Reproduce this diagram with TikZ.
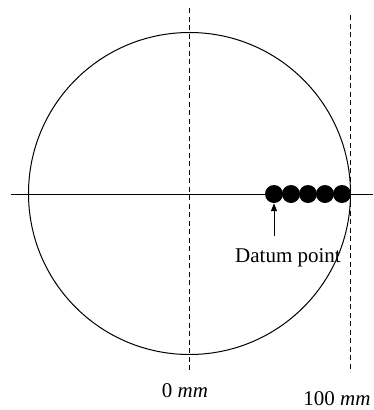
\documentclass[tikz,border=0pt]{standalone}
\usepackage{fontspec}
\setmainfont{Liberation Serif}
\usetikzlibrary{arrows.meta}
\begin{document}
\begin{tikzpicture}[x=1pt,y=-1pt,
  guide/.style={line width=0.9pt, dash pattern=on 5pt off 3.5pt},
  ball/.style={circle, fill=black, minimum size=18pt, inner sep=0pt},
  lbl/.style={font=\fontsize{21}{24}\selectfont, inner sep=0pt}]
\useasboundingbox (0,0) rectangle (373,410);
\coordinate (c) at (189.5,193.5);
\draw[line width=1pt] (c) circle[radius=161];
\coordinate (hl) at (11,194);
\coordinate (hr) at (373,194);
\draw[line width=1pt] (hl) -- (hr);
\coordinate (v0t) at (189.5,8);
\coordinate (v0b) at (189.5,372);
\draw[guide] (v0t) -- (v0b);
\coordinate (v1t) at (350,15);
\coordinate (v1b) at (350,372);
\draw[guide] (v1t) -- (v1b);
\node[ball] (b1) at (274,194) {};
\node[ball] (b2) at (291,194) {};
\node[ball] (b3) at (308,194) {};
\node[ball] (b4) at (325,194) {};
\node[ball] (b5) at (342,194) {};
\coordinate (at) at (274,236);
\draw[line width=1pt, -{Triangle[length=8pt,width=6pt]}] (at) -- (b1.south);
\node[lbl, anchor=base] (dp) at (288,262) {Datum point};
\node[lbl, anchor=base] (z) at (185,397) {0 \textit{mm}};
\node[lbl, anchor=base] (h) at (337,405) {100 \textit{mm}};
\end{tikzpicture}
\end{document}
